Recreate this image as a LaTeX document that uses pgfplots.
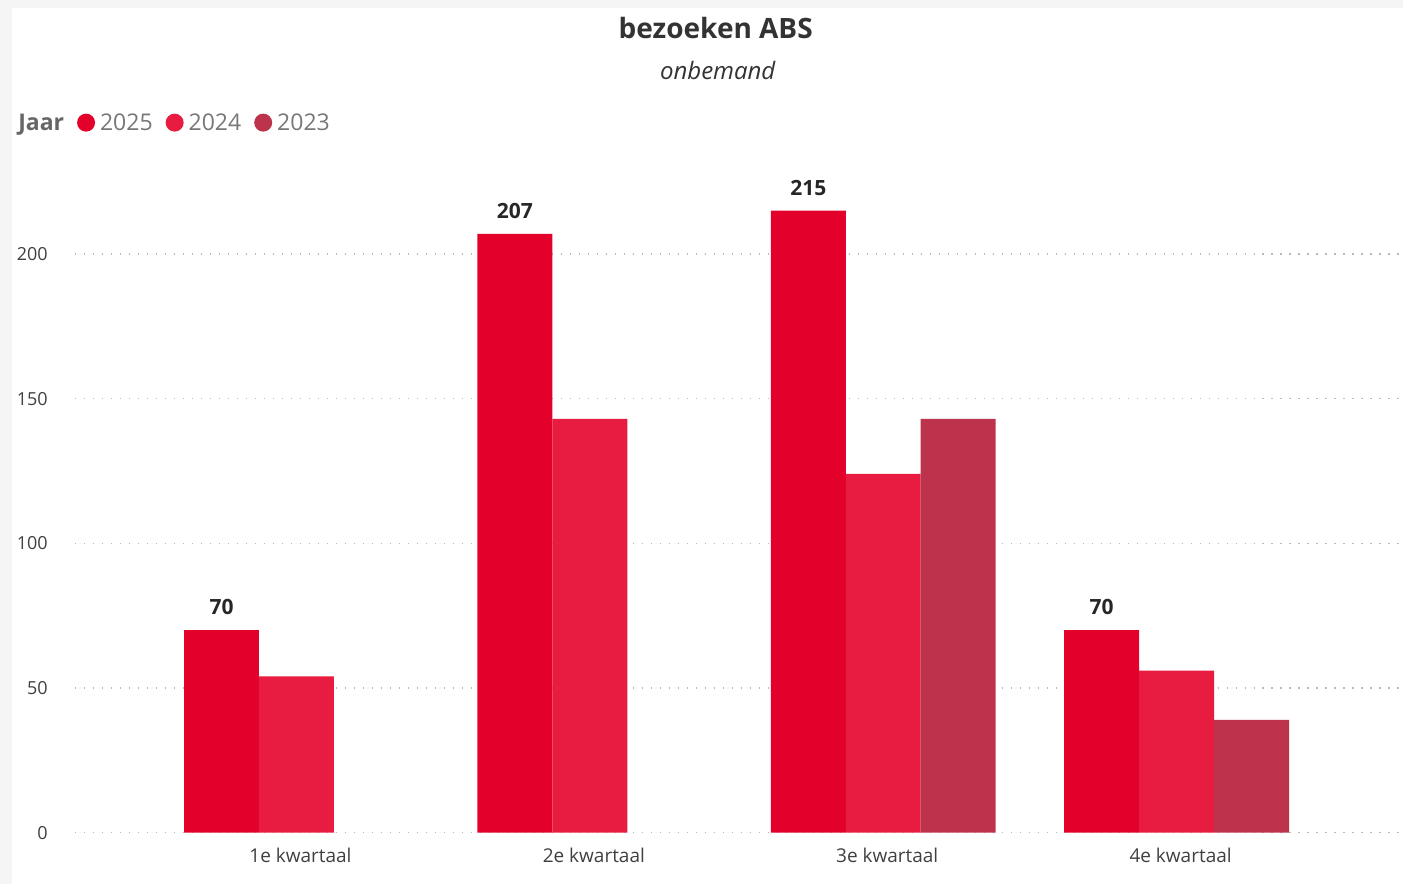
\documentclass[border=0pt]{standalone}
\usepackage{pgfplots}
\pgfplotsset{compat=1.18}
\usepackage{fontspec}
\setmainfont{Open Sans}
\definecolor{c25}{HTML}{E3002B}
\definecolor{c24}{HTML}{E81C40}
\definecolor{c23}{HTML}{BD334B}
\definecolor{tickc}{HTML}{404040}
\definecolor{legc}{HTML}{777777}
\definecolor{ttl}{HTML}{333333}
\begin{document}
\begin{tikzpicture}[x=1pt,y=1pt]
\fill[black!4] (0,0) rectangle (1404,884);
\fill[white] (12,0) rectangle (1404,876);
\node[font=\bfseries\fontsize{28}{28}\selectfont, text=ttl, anchor=base, inner sep=0pt] at (716,845) {bezoeken ABS};
\node[font=\itshape\fontsize{24}{24}\selectfont, text=ttl, anchor=base, inner sep=0pt] at (718,804) {onbemand};
\begin{axis}[at={(75pt,51pt)}, anchor=south west, scale only axis,
  width=1329pt, height=683pt,
  ymin=0, ymax=236, xmin=-0.755, xmax=3.773,
  ybar=0pt, bar width=75pt,
  axis line style={draw=none}, tick style={draw=none}, major tick length=0pt,
  ymajorgrids, grid style={dash pattern=on 1.5pt off 7.5pt, color=black!28, line width=1.2pt},
  ytick={0,50,100,150,200},
  xtick={0,1,2,3}, xticklabels={1e kwartaal,2e kwartaal,3e kwartaal,4e kwartaal},
  /pgf/number format/assume math mode=true,
  yticklabel style={font=\fontsize{18}{18}\selectfont, text=tickc, inner sep=0pt, anchor=east, xshift=-27pt},
  xticklabel style={font=\fontsize{19}{19}\selectfont, text=tickc, inner sep=0pt, anchor=north, yshift=-15pt, xshift=4pt},
  legend columns=-1,
  legend style={at={(axis description cs:-0.0466,1.04)}, anchor=west, draw=none, fill=none, inner sep=0pt,
    font=\fontsize{23}{23}\selectfont, text=legc,
    /tikz/every odd column/.append style={column sep=3pt},
    /tikz/every even column/.append style={column sep=11pt}},
]
\addlegendimage{empty legend}
\addlegendentry{\textcolor{black!60}{\bfseries Jaar}}
\addplot[fill=c25, draw=none,
  legend image code/.code={\fill[c25] (9pt,0pt) circle (9pt);},
  nodes near coords,
  nodes near coords style={font=\bfseries\fontsize{21}{21}\selectfont, text=black!85, anchor=south, inner sep=0pt, yshift=15pt}]
  coordinates {(0,70) (1,207) (2,215) (3,70)};
\addlegendentry{2025}
\addplot[fill=c24, draw=none,
  legend image code/.code={\fill[c24] (9pt,0pt) circle (9pt);}]
  coordinates {(0,54) (1,143) (2,124) (3,56)};
\addlegendentry{2024}
\addplot[fill=c23, draw=none,
  legend image code/.code={\fill[c23] (9pt,0pt) circle (9pt);}]
  coordinates {(2,143) (3,39)};
\addlegendentry{2023}
\end{axis}
\end{tikzpicture}
\end{document}
